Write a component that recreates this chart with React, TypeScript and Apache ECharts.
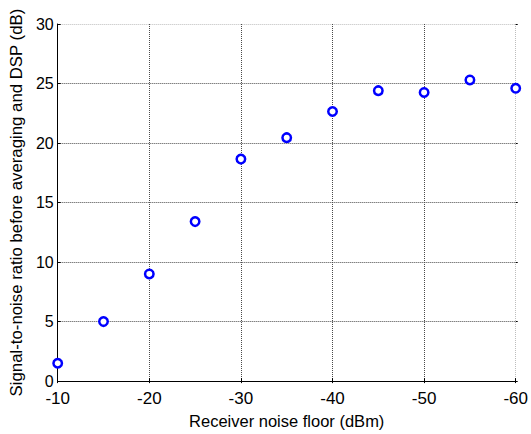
import React, { useEffect, useRef } from "react";
import * as echarts from "echarts";

const noiseFloor = [-10, -15, -20, -25, -30, -35, -40, -45, -50, -55, -60];
const snrValues = [1.5, 5.0, 9.0, 13.4, 18.65, 20.45, 22.65, 24.4, 24.25, 25.3, 24.6];
const xTicks = [-60, -10, 10];
const yTicks = [0, 30, 5];

export default function App() {
  const ref = useRef<HTMLDivElement>(null);
  useEffect(() => {
    if (!ref.current) return;
    const chart = echarts.init(ref.current, null, { renderer: "svg" });
    const font = "'Liberation Sans', Arial, sans-serif";
    const xGridColors = ["#bdbdbd", "#4a4a4a", "#4a4a4a", "#4a4a4a", "#4a4a4a", "#4a4a4a"];
    const yGridColors = ["#4a4a4a", "#4a4a4a", "#4a4a4a", "#4a4a4a", "#4a4a4a", "#4a4a4a", "#bdbdbd"];
    chart.setOption({
      animation: false,
      backgroundColor: "#ffffff",
      grid: { left: 57.5, right: 10.5, top: 24, bottom: 46, containLabel: false },
      xAxis: [
        {
          type: "value",
          min: xTicks[0],
          max: xTicks[1],
          interval: xTicks[2],
          inverse: true,
          name: "Receiver noise floor (dBm)",
          nameLocation: "middle",
          nameGap: 27,
          nameTextStyle: { fontFamily: font, fontSize: 16.5, color: "#000" },
          axisLine: { show: true, onZero: false, lineStyle: { color: "#000", width: 1 } },
          axisTick: { show: true, inside: true, length: 3, lineStyle: { color: "#000" } },
          axisLabel: { fontFamily: font, fontSize: 17, color: "#000", margin: 9 },
          splitLine: { show: true, lineStyle: { color: xGridColors, type: [1, 1], width: 1 } },
        },
        {
          type: "value",
          position: "top",
          min: xTicks[0],
          max: xTicks[1],
          interval: xTicks[2],
          inverse: true,
          axisLine: { show: false },
          axisTick: { show: true, inside: true, length: 2, lineStyle: { color: "#000" } },
          axisLabel: { show: false },
          splitLine: { show: false },
        },
      ],
      yAxis: [
        {
          type: "value",
          min: yTicks[0],
          max: yTicks[1],
          interval: yTicks[2],
          name: "Signal-to-noise ratio before averaging and DSP (dB)",
          nameLocation: "middle",
          nameGap: 26,
          nameTextStyle: { fontFamily: font, fontSize: 16.8, color: "#000" },
          axisLine: { show: true, onZero: false, lineStyle: { color: "#000", width: 1 } },
          axisTick: { show: true, inside: true, length: 3, lineStyle: { color: "#000" } },
          axisLabel: { fontFamily: font, fontSize: 16, color: "#000", margin: 4 },
          splitLine: { show: true, lineStyle: { color: yGridColors, type: [1, 1], width: 1 } },
        },
        {
          type: "value",
          position: "right",
          min: yTicks[0],
          max: yTicks[1],
          interval: yTicks[2],
          axisLine: { show: false },
          axisTick: { show: true, inside: false, length: 2, lineStyle: { color: "#000" } },
          axisLabel: { show: false },
          splitLine: { show: false },
        },
      ],
      series: [
        {
          type: "scatter",
          data: noiseFloor.map((x, i) => [x, snrValues[i]]),
          symbol: "circle",
          symbolSize: 8.5,
          itemStyle: { color: "#ffffff", borderColor: "#0000ff", borderWidth: 2.5, opacity: 1 },
          clip: false,
        },
      ],
    });
    return () => chart.dispose();
  }, []);
  return <div ref={ref} style={{ width: 531, height: 434, position: "absolute", left: 0, top: 0 }} />;
}
